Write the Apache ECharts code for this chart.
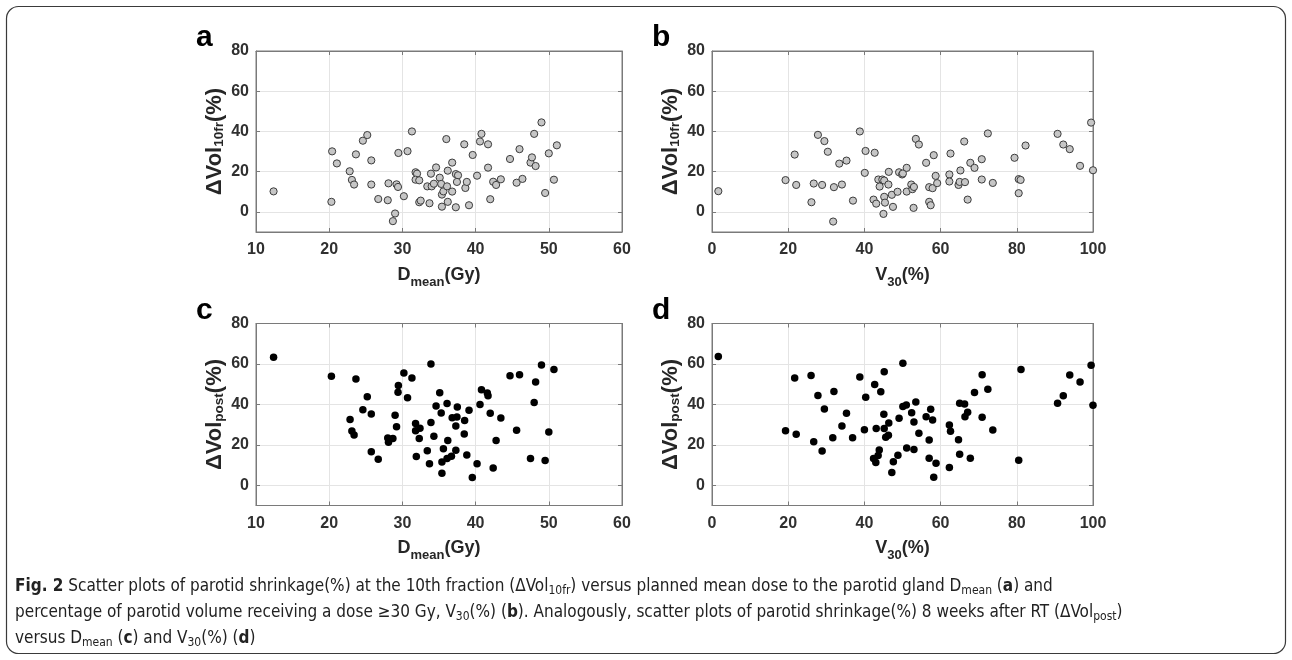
<!DOCTYPE html>
<html><head><meta charset="utf-8">
<script src="https://cdn.jsdelivr.net/npm/echarts@6/dist/echarts.min.js"></script>
<style>html,body{margin:0;padding:0;background:#fff}#c{width:1292px;height:660px}</style>
</head><body><div id="c"></div>
<script>
// ---------------- data ----------------
const dmeanTicks = [10, 60, 10];      // min, max, step
const v30Ticks = [0, 100, 20];
const volTicks = [0, 20, 40, 60, 80];
const volRange = [-10, 80];

// (a) ΔVol10fr vs Dmean
const vol10frVsDmean = [
 [12.4,10.2],[20.3,5.0],[20.4,30.1],[21.05,24.1],[22.8,20.2],[23.1,15.9],[23.4,13.6],[23.65,28.6],[24.6,35.4],[25.2,38.2],
 [25.75,25.6],[25.75,13.6],[26.7,6.4],[28.0,5.8],[28.1,14.2],[28.7,-4.6],[29.0,-0.8],[29.2,13.7],[29.4,12.4],[29.45,29.3],
 [30.2,7.8],[30.7,30.2],[31.3,40.0],[31.8,19.7],[32.0,19.0],[31.8,16.0],[32.3,15.7],[32.3,4.8],[32.5,5.6],[33.4,12.7],
 [33.7,4.3],[33.9,19.0],[34.0,12.7],[34.3,14.0],[34.6,22.1],[35.1,17.0],[35.3,13.9],[35.4,8.6],[35.6,10.2],[35.4,2.6],
 [36.0,36.2],[36.1,12.7],[36.2,20.5],[36.2,5.0],[36.8,24.5],[36.8,10.1],[37.3,18.8],[37.6,18.2],[37.45,14.9],[37.3,2.3],
 [38.45,33.6],[38.6,11.9],[38.8,14.9],[39.1,3.3],[39.6,28.3],[40.2,18.0],[40.6,35.0],[40.8,38.8],[41.7,33.6],[41.7,22.0],
 [42.0,6.3],[42.4,15.0],[42.8,13.4],[43.45,16.2],[44.7,26.3],[45.6,14.5],[46.0,31.2],[46.4,16.4],[47.5,24.5],[47.7,27.1],
 [48.0,38.8],[48.2,22.8],[49.0,44.5],[49.5,9.4],[50.0,29.1],[50.7,16.0],[51.1,33.1]
];
// (b) ΔVol10fr vs V30
const vol10frVsV30 = [
 [1.66,10.3],[19.3,15.8],[21.7,28.5],[22.1,13.4],[26.1,4.8],[26.7,14.1],[27.8,38.3],[28.9,13.4],[29.5,35.2],[30.4,29.9],
 [32.0,12.3],[31.8,-4.8],[33.4,24.0],[34.1,13.6],[35.3,25.5],[37.0,5.6],[38.8,40.0],[40.1,19.4],[40.3,30.3],[42.4,6.1],
 [42.7,29.4],[43.1,4.1],[43.65,16.1],[44.0,12.6],[44.7,16.1],[45.2,15.6],[46.3,13.6],[45.2,7.5],[45.4,4.6],[45.0,-1.0],
 [46.4,19.9],[47.2,8.5],[47.5,2.5],[48.7,10.0],[49.1,19.7],[49.9,18.6],[50.1,19.1],[51.1,21.9],[51.1,10.1],[52.3,13.6],
 [52.6,11.3],[53.0,12.4],[52.9,2.0],[53.5,36.3],[54.3,33.5],[56.2,24.4],[57.0,12.3],[57.0,5.0],[57.4,3.3],[57.9,11.8],
 [58.2,28.2],[58.7,17.9],[59.1,14.3],[62.3,18.6],[62.3,15.1],[62.6,29.0],[64.7,13.4],[65.0,14.9],[65.2,20.6],[66.2,35.0],
 [66.4,14.8],[67.1,6.1],[67.8,24.4],[68.9,21.9],[70.8,26.2],[70.8,16.1],[72.4,39.0],[73.7,14.4],[79.4,26.9],[80.5,16.3],
 [81.0,15.9],[80.5,9.3],[82.3,33.0],[90.7,38.8],[92.2,33.5],[93.9,31.2],[96.6,22.9],[99.5,44.4],[100,20.7]
];
// (c) ΔVolpost vs Dmean
const volPostVsDmean = [
 [12.4,63.3],[20.3,53.9],[22.85,32.5],[23.1,26.9],[23.4,24.9],[23.65,52.6],[24.6,37.4],[25.2,43.8],[25.75,35.3],[25.75,16.6],
 [26.7,12.9],[28.0,23.4],[28.1,21.3],[28.7,23.1],[29.0,34.6],[29.2,29.0],[29.4,46.0],[29.45,49.3],[30.2,55.5],[30.7,43.3],
 [31.3,53.0],[31.8,30.6],[31.8,27.0],[31.9,14.2],[32.3,23.1],[32.4,28.2],[33.4,17.1],[33.7,10.7],[33.9,60.0],[33.9,31.0],
 [34.3,24.2],[34.6,39.2],[35.1,45.8],[35.3,35.7],[35.4,11.5],[35.4,5.9],[35.6,18.1],[36.1,13.2],[36.2,22.1],[36.1,40.5],
 [36.7,14.3],[36.8,33.4],[37.3,17.3],[37.3,29.3],[37.45,33.8],[37.5,38.7],[38.45,25.4],[38.5,32.0],[38.8,15.0],[39.1,37.1],
 [39.55,3.8],[40.2,10.7],[40.6,39.9],[40.8,47.3],[41.6,45.6],[41.7,44.3],[42.0,35.6],[42.4,8.6],[42.8,22.2],[43.45,33.3],
 [44.7,54.2],[45.6,27.2],[46.0,54.7],[47.5,13.2],[48.0,40.9],[48.2,51.1],[49.0,59.5],[49.5,12.2],[50.0,26.4],[50.7,57.3]
];
// (d) ΔVolpost vs V30
const volPostVsV30 = [
 [1.66,63.7],[19.3,27.0],[21.7,53.0],[22.1,25.2],[26.0,54.3],[26.7,21.5],[27.8,44.4],[28.9,16.9],[29.5,37.7],[31.7,23.5],
 [32.0,46.4],[34.1,29.3],[35.3,35.6],[36.9,23.5],[38.8,53.6],[40.0,27.5],[40.35,43.5],[42.7,49.8],[43.1,28.1],[42.4,13.2],
 [43.0,11.3],[45.2,56.1],[44.3,46.2],[45.1,35.1],[45.2,28.1],[46.4,30.8],[45.6,23.7],[46.3,24.7],[43.9,17.4],[43.6,14.7],
 [47.6,11.6],[47.2,6.3],[48.8,14.9],[49.1,33.1],[50.1,60.4],[50.1,38.9],[51.0,39.7],[51.1,18.4],[52.4,35.9],[53.0,17.7],
 [53.0,31.3],[53.5,41.2],[54.3,25.7],[56.2,33.9],[57.0,22.4],[57.0,13.4],[57.4,37.6],[57.9,32.3],[58.2,4.0],[58.8,10.9],
 [62.3,29.8],[62.6,26.7],[62.3,8.8],[64.7,22.5],[65.0,15.4],[65.0,40.6],[66.3,40.2],[66.4,33.9],[67.1,36.1],[67.8,13.4],
 [68.9,45.9],[70.9,54.6],[70.9,33.6],[72.4,47.5],[73.7,27.3],[80.5,12.4],[81.1,57.3],[90.7,40.6],[92.2,44.3],[93.9,54.5],
 [96.6,51.1],[99.5,59.3],[100,39.6]
];

const panelLetters = ['a', 'b', 'c', 'd'];
const xNames = ['{m|D}{s|mean}{m|(Gy)}', '{m|V}{s|30}{m|(%)}', '{m|D}{s|mean}{m|(Gy)}', '{m|V}{s|30}{m|(%)}'];
const yNames = ['{m|ΔVol}{s|10fr}{m|(%)}', '{m|ΔVol}{s|10fr}{m|(%)}', '{m|ΔVol}{s|post}{m|(%)}', '{m|ΔVol}{s|post}{m|(%)}'];
const captionLines = [
 '{b|Fig. 2} Scatter plots of parotid shrinkage(%) at the 10th fraction (ΔVol{s|10fr}) versus planned mean dose to the parotid gland D{s|mean} ({b|a}) and',
 'percentage of parotid volume receiving a dose ≥30 Gy, V{s|30}(%) ({b|b}). Analogously, scatter plots of parotid shrinkage(%) 8 weeks after RT (ΔVol{s|post})',
 'versus D{s|mean} ({b|c}) and V{s|30}(%) ({b|d})'
];

// ---------------- layout / style ----------------
const FONT = '"Liberation Sans", Arial, sans-serif';
const CAPFONT = '"Liberation Sans Narrow", "DejaVu Sans Condensed", "Roboto Condensed", sans-serif';
const AXC = '#7a7a7a';
const grids = [
  {left: 256, top: 51, width: 366, height: 181},
  {left: 712, top: 51, width: 381, height: 181},
  {left: 256, top: 323.5, width: 366, height: 182},
  {left: 712, top: 323.5, width: 381, height: 182}
];
const xSpecs = [dmeanTicks, v30Ticks, dmeanTicks, v30Ticks];
const panelData = [vol10frVsDmean, vol10frVsV30, volPostVsDmean, volPostVsV30];
const letterPos = [[196, 48], [652, 48], [196, 321], [652, 321]];

const xAxis = [], yAxis = [], series = [];
grids.forEach((g, i) => {
  const [mn, mx, st] = xSpecs[i];
  xAxis.push({
    type: 'value', gridIndex: i, min: mn, max: mx, interval: st, position: 'bottom',
    axisLine: {show: true, onZero: false, lineStyle: {color: AXC, width: 1}},
    axisTick: {show: true, inside: true, length: 4, lineStyle: {color: AXC}},
    axisLabel: {margin: 10, fontSize: 16, fontWeight: 'bold', color: '#303030', fontFamily: FONT},
    splitLine: {show: true, lineStyle: {color: '#e4e4e4', width: 1}},
    name: xNames[i], nameLocation: 'middle', nameGap: 28,
    nameTextStyle: {rich: {
      m: {fontSize: 18, fontWeight: 'bold', color: '#262626', fontFamily: FONT, lineHeight: 30},
      s: {fontSize: 13, fontWeight: 'bold', color: '#262626', fontFamily: FONT, lineHeight: 13, padding: [14, 0, 0, 0]}
    }}
  });
  xAxis.push({
    type: 'value', gridIndex: i, min: mn, max: mx, interval: st, position: 'top',
    axisLine: {show: true, onZero: false, lineStyle: {color: AXC, width: 1}},
    axisTick: {show: true, inside: true, length: 4, lineStyle: {color: AXC}},
    axisLabel: {show: false}, splitLine: {show: false}
  });
  yAxis.push({
    type: 'value', gridIndex: i, min: volRange[0], max: volRange[1], position: 'left',
    axisLine: {show: true, onZero: false, lineStyle: {color: AXC, width: 1}},
    axisTick: {show: true, inside: true, length: 4, lineStyle: {color: AXC}, customValues: volTicks},
    axisLabel: {margin: 7, fontSize: 16, fontWeight: 'bold', color: '#303030', fontFamily: FONT, customValues: volTicks},
    splitLine: {show: true, lineStyle: {color: '#e4e4e4', width: 1}},
    name: yNames[i], nameLocation: 'middle', nameRotate: 90, nameGap: 29,
    nameTextStyle: {rich: {
      m: {fontSize: 22, fontWeight: 'bold', color: '#262626', fontFamily: FONT, lineHeight: 25},
      s: {fontSize: 13.5, fontWeight: 'bold', color: '#262626', fontFamily: FONT, lineHeight: 13, padding: [9, 0, 0, 0]}
    }}
  });
  yAxis.push({
    type: 'value', gridIndex: i, min: volRange[0], max: volRange[1], position: 'right',
    axisLine: {show: true, onZero: false, lineStyle: {color: AXC, width: 1}},
    axisTick: {show: true, inside: true, length: 4, lineStyle: {color: AXC}, customValues: volTicks},
    axisLabel: {show: false}, splitLine: {show: false}
  });
  const hollow = i < 2;
  series.push({
    type: 'scatter', xAxisIndex: 2 * i, yAxisIndex: 2 * i, data: panelData[i],
    symbol: 'circle', symbolSize: hollow ? 7.2 : 7.5, silent: true,
    itemStyle: hollow ? {color: '#c6c6c6', borderColor: '#3c3c3c', borderWidth: 1, opacity: 1}
                      : {color: '#000000', opacity: 1}
  });
});

const graphic = [];
graphic.push({type: 'rect', shape: {x: 6.5, y: 6.5, width: 1279, height: 647, r: 12},
  style: {fill: 'none', stroke: '#3a3a3a', lineWidth: 1.2}, silent: true});
panelLetters.forEach((t, i) => {
  graphic.push({type: 'text', x: letterPos[i][0], y: letterPos[i][1] - 10.4,
    style: {text: t, fontSize: 30, fontWeight: 'bold', fill: '#000', fontFamily: FONT, verticalAlign: 'middle', align: 'left'}});
});
const capRich = {
  b: {fontWeight: 'bold', fontSize: 17, fontFamily: CAPFONT, fill: '#222', lineHeight: 24},
  s: {fontSize: 12, fontFamily: CAPFONT, fill: '#222', lineHeight: 12, padding: [8, 0, 0, 0]}
};
captionLines.forEach((t, i) => {
  graphic.push({type: 'text', x: 15, y: 587 + i * 26,
    style: {text: t, fontSize: 17, fontFamily: CAPFONT, fill: '#222', lineHeight: 24,
      verticalAlign: 'middle', align: 'left', rich: capRich}});
});

const chart = echarts.init(document.getElementById('c'), null, {renderer: 'canvas'});
chart.setOption({
  animation: false,
  backgroundColor: '#ffffff',
  grid: grids.map(g => Object.assign({show: true, borderColor: AXC, borderWidth: 1, backgroundColor: 'transparent'}, g)),
  xAxis, yAxis, series, graphic
});
</script></body></html>
